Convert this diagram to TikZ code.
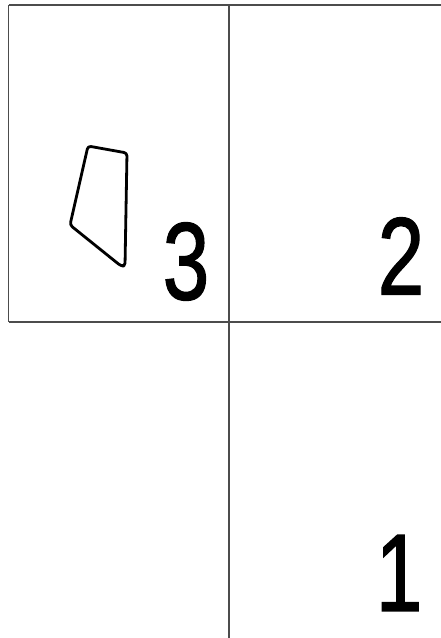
\documentclass[tikz,border=0pt]{standalone}
\usepackage{fontspec}
\setmainfont{Liberation Sans}
\newfontfamily\digitfont[FakeBold=1.4]{Liberation Sans}
\begin{document}
\begin{tikzpicture}[x=1pt,y=-1pt,
  gridline/.style={draw=black!70,line width=1.4pt},
  outline/.style={draw=black,line width=2.8pt,rounded corners=3pt,line join=round},
  digit/.style={inner sep=0pt,font=\digitfont\fontsize{110}{110}\selectfont,xscale=0.76,transform shape}]
\useasboundingbox (0,0) rectangle (441,638);
\coordinate (tl) at (8.5,5);
\coordinate (tm) at (229,5);
\coordinate (tr) at (441,5);
\coordinate (ml) at (8.5,322);
\coordinate (mm) at (229,322);
\coordinate (mr) at (441,322);
\coordinate (bm) at (229,638);
\draw[gridline] (tl) -- (tr);
\draw[gridline] (tl) -- (ml);
\draw[gridline] (ml) -- (mr);
\draw[gridline] (tm) -- (bm);
\draw[outline] (88,146) -- (127,153) -- (125,266) -- (121,266) -- (70,225) -- cycle;
\node[digit] (n3) at (186,261.5) {3};
\node[digit] (n2) at (401,256) {2};
\node[digit] (n1) at (399,573) {1};
\end{tikzpicture}
\end{document}
